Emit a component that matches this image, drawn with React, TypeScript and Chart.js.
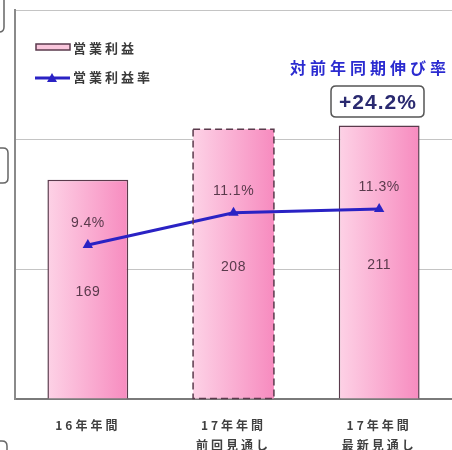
import React, { useEffect, useRef } from "react";
import { Chart, registerables } from "chart.js";

Chart.register(...registerables);

const categories: string[][] = [["16年年間"], ["17年年間", "前回見通し"], ["17年年間", "最新見通し"]];
const profitValues: number[] = [169, 208, 211];
const marginValues: number[] = [9.4, 11.1, 11.3];
const profitLabel = "営業利益";
const marginLabel = "営業利益率";
const growthTitle = "対前年同期伸び率";
const growthValue = "+24.2%";

const BAR_BORDER = "#5a3a4c";
const LINE_COLOR = "#2a22c4";
const BAR_PCT = 0.555;

function barGradient(ctx: any) {
  const chart = ctx.chart;
  const xs = chart.scales?.x;
  if (!chart.chartArea || !xs || ctx.dataIndex === undefined) return "#fbb0d2";
  const cx = xs.getPixelForValue(ctx.dataIndex);
  const half = ((xs.width / categories.length) * BAR_PCT) / 2;
  const g = chart.ctx.createLinearGradient(cx - half, 0, cx + half, 0);
  g.addColorStop(0, "#fdd2e6");
  g.addColorStop(1, "#f78bbf");
  return g;
}

function roundRect(c: CanvasRenderingContext2D, x: number, y: number, w: number, h: number, r: number) {
  c.beginPath();
  c.moveTo(x + r, y);
  c.lineTo(x + w - r, y);
  c.quadraticCurveTo(x + w, y, x + w, y + r);
  c.lineTo(x + w, y + h - r);
  c.quadraticCurveTo(x + w, y + h, x + w - r, y + h);
  c.lineTo(x + r, y + h);
  c.quadraticCurveTo(x, y + h, x, y + h - r);
  c.lineTo(x, y + r);
  c.quadraticCurveTo(x, y, x + r, y);
  c.closePath();
}

const spacingPlugin = {
  id: "spacing",
  beforeDraw(chart: any) {
    (chart.ctx as any).letterSpacing = "3px";
  },
  beforeDatasetsDraw(chart: any) {
    (chart.ctx as any).letterSpacing = "0px";
  },
};

const overlayPlugin = {
  id: "overlay",
  afterDatasetsDraw(chart: any) {
    const c: CanvasRenderingContext2D = chart.ctx;
    const barMeta = chart.getDatasetMeta(0);
    const lineMeta = chart.getDatasetMeta(1);
    c.save();
    (c as any).letterSpacing = "0px";

    // dashed border for the forecast bar
    const b = barMeta.data[1];
    if (b) {
      c.strokeStyle = BAR_BORDER;
      c.lineWidth = 1.5;
      c.setLineDash([7, 4]);
      c.strokeRect(b.x - b.width / 2, b.y, b.width, b.base - b.y);
      c.setLineDash([]);
    }

    // value labels
    c.fillStyle = BAR_BORDER;
    c.font = "14px 'Liberation Sans', sans-serif";
    c.textAlign = "center";
    c.textBaseline = "middle";
    (c as any).letterSpacing = "0.5px";
    barMeta.data.forEach((el: any, i: number) => {
      c.fillText(String(profitValues[i]), el.x, (el.y + el.base) / 2 + 3);
    });
    lineMeta.data.forEach((el: any, i: number) => {
      c.fillText(marginValues[i].toFixed(1) + "%", el.x, el.y - 22);
    });

    // legend
    c.fillStyle = "#f9c6dc";
    c.fillRect(36, 44, 34, 6);
    c.strokeStyle = BAR_BORDER;
    c.lineWidth = 1.5;
    c.strokeRect(36, 44, 34, 6);
    c.strokeStyle = LINE_COLOR;
    c.lineWidth = 3;
    c.beginPath();
    c.moveTo(35, 78);
    c.lineTo(70, 78);
    c.stroke();
    c.fillStyle = LINE_COLOR;
    c.beginPath();
    c.moveTo(52, 73);
    c.lineTo(57, 82);
    c.lineTo(47, 82);
    c.closePath();
    c.fill();
    c.fillStyle = "#3a3a3a";
    c.font = "bold 13px 'Noto Sans CJK JP', sans-serif";
    c.textAlign = "left";
    (c as any).letterSpacing = "3px";
    c.fillText(profitLabel, 73, 48);
    c.fillText(marginLabel, 73, 77);

    // growth annotation
    c.fillStyle = "#2b2bd0";
    c.font = "bold 16px 'Noto Sans CJK JP', sans-serif";
    c.textAlign = "center";
    (c as any).letterSpacing = "4px";
    c.fillText(growthTitle, 370, 68);
    (c as any).letterSpacing = "1px";
    roundRect(c, 331, 86, 93, 31, 5);
    c.fillStyle = "#ffffff";
    c.fill();
    c.strokeStyle = "#555555";
    c.lineWidth = 1.5;
    c.stroke();
    c.fillStyle = "#2a2a70";
    c.font = "bold 21px 'Liberation Sans', sans-serif";
    c.fillText(growthValue, 378, 103);

    // cropped fragments on the left edge
    (c as any).letterSpacing = "0px";
    c.strokeStyle = "#666666";
    c.lineWidth = 1.5;
    roundRect(c, -20, -10, 24, 42, 5);
    c.stroke();
    roundRect(c, -20, 148, 28, 35, 5);
    c.stroke();
    roundRect(c, -20, 441, 27, 30, 5);
    c.stroke();
    c.restore();
  },
};

export default function App() {
  const ref = useRef<HTMLCanvasElement>(null);
  useEffect(() => {
    if (!ref.current) return;
    const chart = new Chart(ref.current, {
      type: "bar",
      data: {
        labels: categories,
        datasets: [
          {
            type: "bar",
            label: profitLabel,
            data: profitValues,
            backgroundColor: barGradient,
            borderColor: BAR_BORDER,
            borderWidth: [1.5, 0, 1.5] as any,
            barPercentage: BAR_PCT,
            categoryPercentage: 1,
            yAxisID: "y",
            order: 1,
          },
          {
            type: "line",
            label: marginLabel,
            data: marginValues,
            borderColor: LINE_COLOR,
            backgroundColor: LINE_COLOR,
            borderWidth: 3,
            pointStyle: "triangle",
            pointRadius: 6,
            pointBorderWidth: 0,
            yAxisID: "y1",
            order: 0,
          },
        ],
      },
      options: {
        responsive: false,
        animation: false,
        layout: { autoPadding: false, padding: { left: 15, top: 10, right: 0, bottom: 0 } },
        plugins: { legend: { display: false }, tooltip: { enabled: false } },
        scales: {
          x: {
            grid: { display: false },
            border: { color: "#7a7a7a", width: 2 },
            ticks: {
              color: "#404040",
              padding: 9,
              maxRotation: 0,
              autoSkip: false,
              font: { size: 12, weight: "bold", family: "'Noto Sans CJK JP', sans-serif", lineHeight: 1.65 },
            },
            afterFit: (s: any) => {
              s.height = 51;
            },
          },
          y: {
            min: 0,
            max: 300,
            ticks: { display: false, stepSize: 100 },
            grid: { color: "#c4c4c4", lineWidth: 1, drawTicks: false },
            border: { color: "#8a8a8a", width: 2 },
            afterFit: (s: any) => {
              s.width = 0;
            },
          },
          y1: {
            display: false,
            min: 1.27,
            max: 21.8,
          },
        },
      },
      plugins: [spacingPlugin, overlayPlugin],
    });
    return () => chart.destroy();
  }, []);
  return (
    <div style={{ position: "absolute", left: 0, top: 0, width: 452, height: 450, background: "#fff" }}>
      <canvas ref={ref} width={452} height={450} style={{ display: "block", width: 452, height: 450 }} />
    </div>
  );
}
